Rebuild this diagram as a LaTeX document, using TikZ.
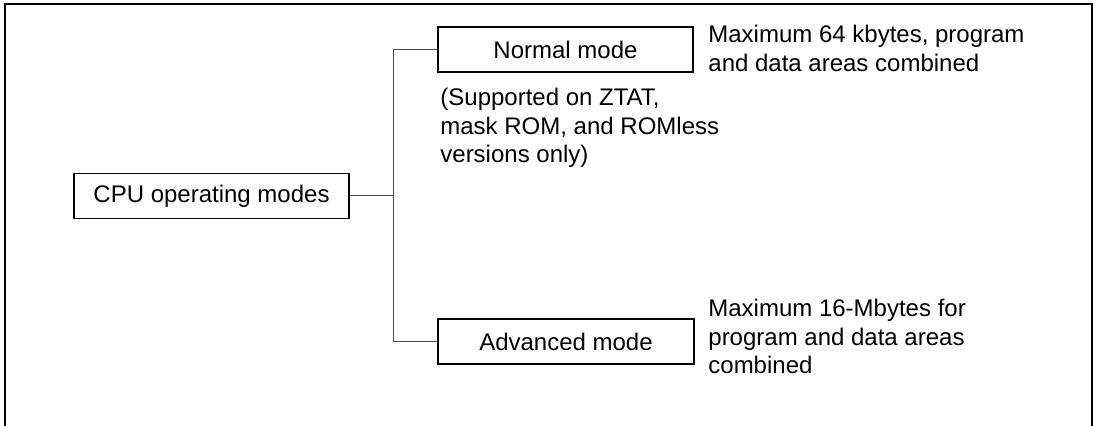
\documentclass[tikz,border=0pt]{standalone}
\usepackage{fontspec}
\setmainfont{Liberation Sans}
\begin{document}
\begin{tikzpicture}[x=0.5pt, y=-0.5pt,
    modebox/.style={draw, line width=0.9pt, minimum height=22.5pt, inner sep=0pt, font=\fontsize{12}{14}\selectfont},
    note/.style={anchor=north west, inner sep=0pt, align=left, font=\fontsize{12}{14.2}\selectfont},
    link/.style={draw=black!70, line width=0.5pt}]
    \useasboundingbox (0,0) rectangle (1101,426);
    \draw[line width=0.8pt] (5,426) -- (5,4) -- (1092,4) -- (1092,426);
    \node[modebox, minimum width=137.5pt] (cpu) at (211.5,196) {CPU operating modes};
    \node[modebox, minimum width=127.5pt] (normal) at (565.5,49.5) {Normal mode};
    \node[modebox, minimum width=128pt] (advanced) at (566,341.5) {Advanced mode};
    \coordinate (fork) at (393,196);
    \draw[link] (cpu.east) -- (fork);
    \draw[link] (fork) |- (normal.west);
    \draw[link] (fork) |- (advanced.west);
    \node[note] (normalnote) at (708,25) {Maximum 64 kbytes, program\\and data areas combined};
    \node[note] (support) at (440,88) {(Supported on ZTAT,\\mask ROM, and ROMless\\versions only)};
    \node[note] (advnote) at (708,299) {Maximum 16-Mbytes for\\program and data areas\\combined};
\end{tikzpicture}
\end{document}
